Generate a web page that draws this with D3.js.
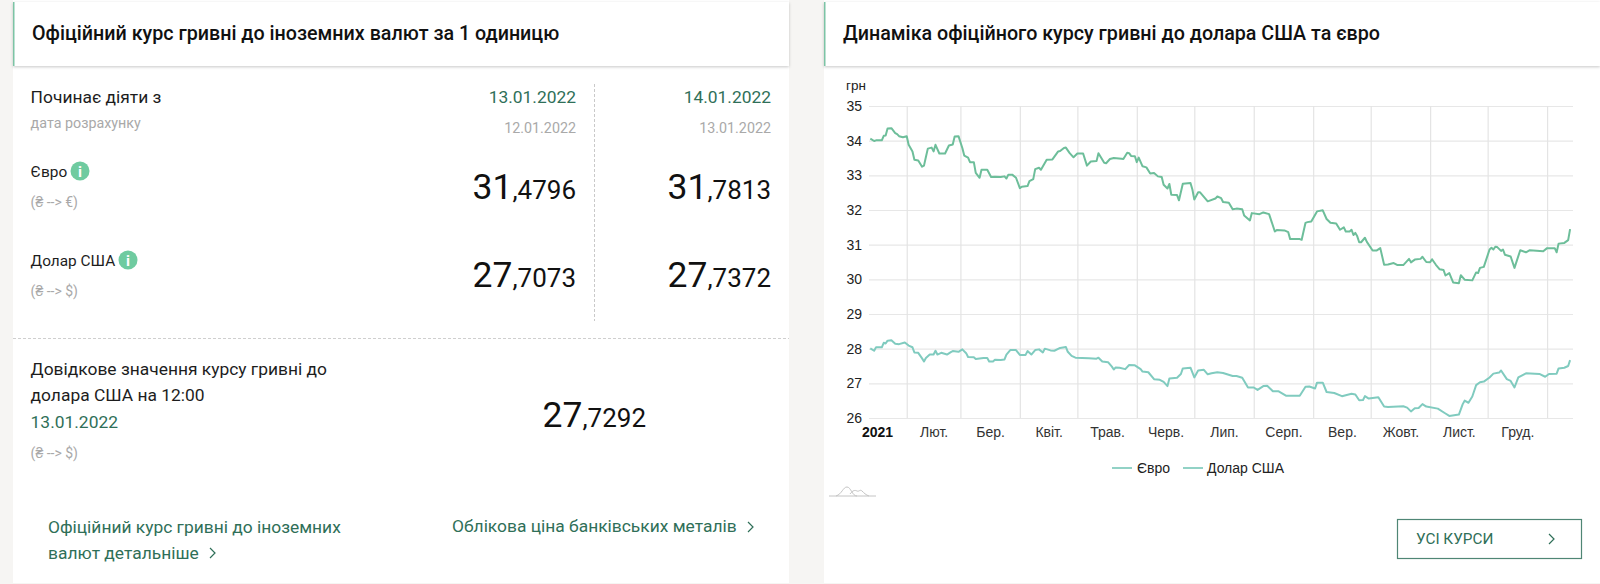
<!DOCTYPE html>
<html>
<head>
<meta charset="utf-8">
<script src="https://cdnjs.cloudflare.com/ajax/libs/d3/7.8.5/d3.min.js"></script>
<style>
  html, body { margin: 0; padding: 0; background: #f6f5f3; overflow: hidden; }
  svg { display: block; }
  text { font-family: Roboto, sans-serif; }
  .chart text { font-family: "Liberation Sans", Arial, sans-serif; }
</style>
</head>
<body>
<svg id="page" width="1600" height="584"></svg>
<script>
// days counted from 1 Jan 2021
const euroDays = [12,14,15,18,19,20,21,23,25,26,27,29,31,32,34,35,37,39,40,41,42,44,45,46,48,51,53,55,56,58,60,61,63,64,66,67,69,70,73,75,77,80,82,83,84,86,88,90,91,94,95,97,98,100,101,104,107,110,111,113,114,116,118,120,123,125,127,130,131,134,135,137,139,143,144,146,147,148,150,151,152,154,156,158,160,162,164,165,167,168,169,172,173,175,179,180,181,183,184,188,192,193,195,196,199,201,203,206,207,210,211,215,217,220,223,224,228,230,231,236,237,239,240,242,245,248,250,252,255,257,259,260,262,263,264,265,266,267,268,270,271,274,276,278,280,282,285,287,290,293,294,296,299,300,302,304,305,307,309,311,312,314,316,319,320,322,326,328,329,330,332,335,336,337,338,339,341,342,343,346,348,351,354,356,363,365,369,370,371,374,376,377];
const euroRates = [34.06,33.99,34.01,34.01,34.14,34.15,34.35,34.36,34.22,34.19,34.13,34.10,34.13,33.88,33.69,33.45,33.43,33.25,33.28,33.53,33.77,33.80,33.69,33.88,33.63,33.63,33.86,33.89,34.12,34.13,33.79,33.57,33.51,33.38,33.38,33.07,32.93,33.16,33.16,32.95,32.96,32.95,32.97,32.91,33.02,33.02,32.93,32.63,32.67,32.69,32.83,32.89,33.18,33.22,33.16,33.45,33.46,33.69,33.70,33.79,33.80,33.64,33.52,33.63,33.63,33.28,33.40,33.41,33.64,33.36,33.35,33.47,33.50,33.48,33.47,33.65,33.64,33.56,33.55,33.38,33.51,33.26,33.23,33.05,33.07,32.97,32.95,32.73,32.62,32.75,32.44,32.43,32.28,32.76,32.78,32.59,32.30,32.51,32.51,32.25,32.33,32.39,32.34,32.23,32.21,32.02,32.04,32.02,31.84,31.70,31.91,31.88,31.93,31.88,31.38,31.42,31.41,31.36,31.16,31.16,31.14,31.63,31.65,31.67,31.96,31.99,31.74,31.63,31.61,31.43,31.50,31.38,31.38,31.43,31.28,31.34,31.24,31.07,31.07,31.20,31.08,30.83,30.83,30.90,30.42,30.43,30.47,30.41,30.41,30.59,30.49,30.57,30.59,30.65,30.50,30.49,30.58,30.42,30.29,30.27,30.11,30.18,29.91,29.89,30.12,29.99,29.97,30.20,30.18,30.33,30.36,30.86,30.91,30.86,30.94,30.93,30.82,30.86,30.71,30.66,30.33,30.84,30.78,30.84,30.81,30.90,30.90,30.78,31.03,31.05,31.13,31.45];
const usdDays = [12,14,15,18,19,20,21,23,25,27,30,32,34,35,37,39,40,41,43,45,46,47,49,52,54,55,58,60,62,63,66,67,71,73,74,76,77,80,82,83,85,88,90,93,94,96,98,100,102,103,106,108,111,114,115,117,119,126,130,131,133,136,138,139,140,142,145,147,150,153,154,157,160,163,165,167,168,172,174,175,179,181,183,186,188,190,193,196,201,203,206,209,212,214,217,219,222,225,229,236,239,241,244,245,248,250,254,258,263,265,267,269,270,272,277,280,282,290,292,294,296,298,300,302,308,312,314,319,321,322,324,326,328,330,332,335,337,340,341,344,346,348,350,354,361,364,366,370,371,374,376,377];
const usdRates = [28.01,27.94,28.04,28.04,28.17,28.15,28.23,28.24,28.14,28.13,28.18,28.09,28.04,27.89,27.88,27.72,27.63,27.73,27.83,27.83,27.94,27.83,27.88,27.83,27.90,27.93,27.91,27.98,27.87,27.76,27.75,27.70,27.73,27.73,27.63,27.63,27.68,27.67,27.69,27.83,27.96,27.96,27.82,27.82,27.93,27.83,27.96,27.98,27.89,28.00,27.95,27.94,28.02,28.05,27.91,27.79,27.74,27.72,27.71,27.74,27.63,27.61,27.48,27.40,27.46,27.45,27.41,27.53,27.52,27.41,27.34,27.32,27.12,27.10,27.04,26.92,27.14,27.16,27.27,27.43,27.45,27.17,27.37,27.39,27.26,27.29,27.32,27.30,27.21,27.21,27.16,26.88,26.88,26.81,26.92,26.93,26.77,26.77,26.64,26.64,26.90,26.91,26.85,27.02,27.02,26.75,26.72,26.63,26.70,26.68,26.51,26.52,26.63,26.56,26.60,26.33,26.32,26.34,26.30,26.19,26.28,26.29,26.40,26.33,26.27,26.13,26.06,26.10,26.40,26.50,26.44,26.62,26.95,27.03,27.05,27.17,27.28,27.31,27.37,27.12,27.07,26.88,27.17,27.29,27.27,27.19,27.27,27.28,27.43,27.45,27.50,27.67];
const monthLabels = ["2021","Лют.","Бер.","Квіт.","Трав.","Черв.","Лип.","Серп.","Вер.","Жовт.","Лист.","Груд."];
const yTicks = [26,27,28,29,30,31,32,33,34,35];
const legendLabels = ["Євро","Долар США"];

const effectiveDates = ["13.01.2022","14.01.2022"];
const calcDates = ["12.01.2022","13.01.2022"];
const euroTable = [["31",",4796"],["31",",7813"]];
const usdTable = [["27",",7073"],["27",",7372"]];
const refRate = ["27",",7292"];

const GREEN = "#2f6f58", GRAY = "#a9a9a9", INK = "#1d1d1d";
const EURO_COLOR = "#6dbe9a", USD_COLOR = "#80cbbf";

const svg = d3.select("#page");
const defs = svg.append("defs");
const shadow = defs.append("filter").attr("id", "hdr").attr("x", "-2%").attr("y", "-20%").attr("width", "104%").attr("height", "150%");
shadow.append("feDropShadow").attr("dx", 0).attr("dy", 1).attr("stdDeviation", 1.8).attr("flood-color", "#000").attr("flood-opacity", 0.22);

function label(parent, x, y, str, size, fill, opts = {}) {
  return parent.append("text")
    .attr("x", x).attr("y", y)
    .attr("font-size", size).attr("fill", fill)
    .attr("font-weight", opts.weight || 400)
    .attr("text-anchor", opts.anchor || "start")
    .attr("dominant-baseline", "alphabetic")
    .text(str);
}

function chevron(parent, x, y, color) {
  parent.append("path")
    .attr("d", `M${x - 3},${y - 5}L${x + 2},${y}L${x - 3},${y + 5}`)
    .attr("fill", "none").attr("stroke", color).attr("stroke-width", 1.2);
}

function card(x, w, title, titleX) {
  svg.append("rect").attr("x", x).attr("y", 0).attr("width", w).attr("height", 583).attr("fill", "#fff");
  svg.append("rect").attr("x", x).attr("y", 2).attr("width", w).attr("height", 64).attr("fill", "#fff").attr("filter", "url(#hdr)");
  svg.append("rect").attr("x", x).attr("y", 2).attr("width", 1.5).attr("height", 64).attr("fill", "#7cc4a5");
  label(svg, titleX, 40, title, 19.7, "#111", { weight: 500 });
}

function rate(parent, right, base, parts, big = 35.5, small = 26) {
  const t = parent.append("text").attr("x", right).attr("y", base).attr("text-anchor", "end").attr("fill", "#111");
  t.append("tspan").attr("font-size", big).text(parts[0]);
  t.append("tspan").attr("font-size", small).text(parts[1]);
}

function infoDot(parent, cx, cy) {
  parent.append("circle").attr("cx", cx).attr("cy", cy).attr("r", 9.5).attr("fill", "#6fcba0");
  label(parent, cx, cy + 5.5, "i", 15, "#fff", { anchor: "middle", weight: 700 });
}

// ---- left card
card(13, 776, "Офіційний курс гривні до іноземних валют за 1 одиницю", 32);
const left = svg.append("g");
const cols = [576, 771];

label(left, 30.6, 103, "Починає діяти з", 17.4, INK);
label(left, 30.6, 128, "дата розрахунку", 14.3, GRAY);
label(left, 30.6, 177, "Євро", 15.4, INK);
infoDot(left, 80, 171);
label(left, 30.6, 207, "(₴ --> €)", 14, GRAY);
label(left, 30.6, 266, "Долар США", 15.4, INK);
infoDot(left, 128, 260);
label(left, 30.6, 296, "(₴ --> $)", 14, GRAY);

cols.forEach((right, i) => {
  label(left, right, 103, effectiveDates[i], 17.4, GREEN, { anchor: "end" });
  label(left, right, 133, calcDates[i], 14.3, GRAY, { anchor: "end" });
  rate(left, right, 199, euroTable[i]);
  rate(left, right, 287, usdTable[i]);
});

left.append("line").attr("x1", 594.5).attr("x2", 594.5).attr("y1", 84).attr("y2", 321)
  .attr("stroke", "#c9c9c9").attr("stroke-dasharray", "3 2");
left.append("line").attr("x1", 13).attr("x2", 789).attr("y1", 338.5).attr("y2", 338.5)
  .attr("stroke", "#cfcfcf").attr("stroke-dasharray", "3 2");

label(left, 30.6, 375, "Довідкове значення курсу гривні до", 17.4, INK);
label(left, 30.6, 401, "долара США на 12:00", 17.4, INK);
label(left, 30.6, 428, "13.01.2022", 17.4, GREEN);
label(left, 30.6, 458, "(₴ --> $)", 14, GRAY);
rate(left, 646, 427, refRate);

label(left, 48, 533, "Офіційний курс гривні до іноземних", 17.4, GREEN);
label(left, 48, 559, "валют детальніше", 17.4, GREEN);
chevron(left, 213, 553, GREEN);
label(left, 452, 532, "Облікова ціна банківських металів", 17.4, GREEN);
chevron(left, 751, 527, GREEN);

// ---- right card
card(824, 776, "Динаміка офіційного курсу гривні до долара США та євро", 843);
const chart = svg.append("g").attr("class", "chart");

const dayDate = d => new Date(Date.UTC(2021, 0, 1 + d));
const x = d3.scaleUtc().domain([dayDate(0), dayDate(378)]).range([847.3, 1572]);
const y = d3.scaleLinear().domain([26, 35]).range([418, 106]);
const monthStarts = monthLabels.map((_, i) => new Date(Date.UTC(2021, i, 1)));
const gridMonths = d3.range(1, 13).map(i => new Date(Date.UTC(2021, i, 1)));

// horizontal grid + y labels
const yAxis = chart.append("g").attr("transform", `translate(869,0)`)
  .call(d3.axisLeft(y).tickValues(yTicks).tickFormat(d3.format("d")).tickSize(-704).tickPadding(7));
yAxis.select(".domain").remove();
yAxis.selectAll("line").attr("stroke", "#e7e7e7").attr("stroke-width", 1.2);
yAxis.selectAll("text").attr("font-size", 14).attr("fill", "#222");

// vertical grid at month starts
const xGrid = chart.append("g").attr("transform", `translate(0,418)`)
  .call(d3.axisBottom(x).tickValues(gridMonths).tickSize(-312).tickFormat(""));
xGrid.select(".domain").remove();
xGrid.selectAll("line").attr("stroke", "#e4e4e4").attr("stroke-width", 1.2);

// month labels are centred inside their month
const xAxis = chart.append("g").attr("transform", `translate(0,418)`)
  .call(d3.axisBottom(x).tickValues(monthStarts).tickSize(0).tickPadding(9).tickFormat((d, i) => monthLabels[i]));
xAxis.select(".domain").remove();
xAxis.selectAll("text")
  .attr("dx", (d, i) => (x(new Date(Date.UTC(2021, i + 1, 1))) - x(d)) / 2)
  .attr("font-size", 14)
  .attr("font-weight", (d, i) => i === 0 ? 700 : 400)
  .attr("fill", (d, i) => i === 0 ? "#111" : "#333");

label(chart, 846, 90, "грн", 13.5, "#222");

const line = d3.line().x(d => x(dayDate(d[0]))).y(d => y(d[1]));
chart.append("path").datum(d3.zip(euroDays, euroRates)).attr("d", line)
  .attr("fill", "none").attr("stroke", EURO_COLOR).attr("stroke-width", 2).attr("stroke-linejoin", "round");
chart.append("path").datum(d3.zip(usdDays, usdRates)).attr("d", line)
  .attr("fill", "none").attr("stroke", USD_COLOR).attr("stroke-width", 2).attr("stroke-linejoin", "round");

// legend
[[1112, 1137], [1183, 1207]].forEach(([lx, tx], i) => {
  chart.append("line").attr("x1", lx).attr("x2", lx + 20).attr("y1", 468).attr("y2", 468)
    .attr("stroke", "#86cdc0").attr("stroke-width", 1.8);
  label(chart, tx, 473, legendLabels[i], 14, "#222");
});

// little navigator logo
chart.append("path")
  .attr("d", "M829,496 H876 M836,496 C842,494 843,487 847,487 C851,487 852,496 857,496 M850,494 C853,490 855,490 857,491 C859,492 860,489 862,491 C864,493 866,495 869,496")
  .attr("fill", "none").attr("stroke", "#c4c4c4").attr("stroke-width", 1);

// button
const btn = svg.append("g");
btn.append("rect").attr("x", 1397.5).attr("y", 519.5).attr("width", 184).attr("height", 39)
  .attr("fill", "#fff").attr("stroke", "#4f8675").attr("stroke-width", 1.2);
label(btn, 1416, 544, "УСІ КУРСИ", 15.3, GREEN);
chevron(btn, 1552, 539, GREEN);
</script>
</body>
</html>
